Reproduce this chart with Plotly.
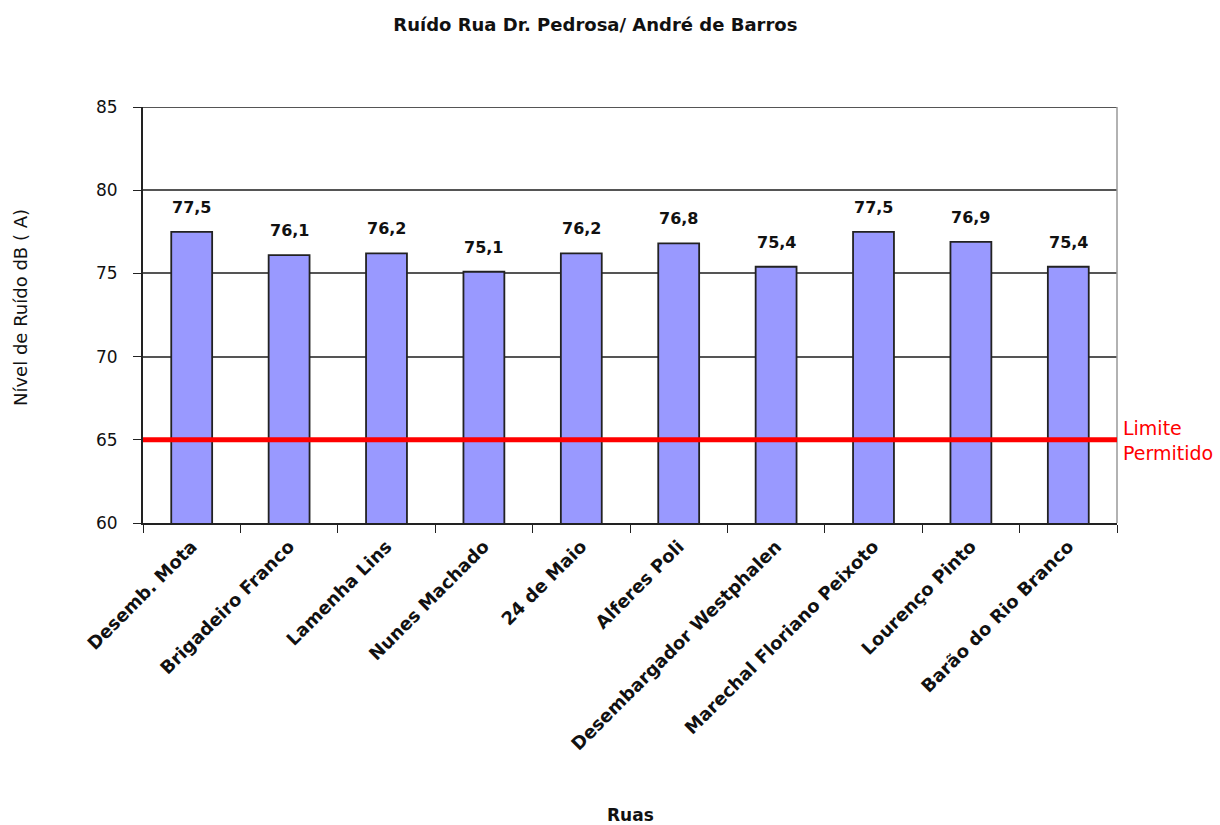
import plotly.graph_objects as go

ruas = ["Desemb. Mota", "Brigadeiro Franco", "Lamenha Lins", "Nunes Machado",
        "24 de Maio", "Alferes Poli", "Desembargador Westphalen",
        "Marechal Floriano Peixoto", "Lourenço Pinto", "Barão do Rio Branco"]
ruido = [77.5, 76.1, 76.2, 75.1, 76.2, 76.8, 75.4, 77.5, 76.9, 75.4]
limite = 65

fig = go.Figure()
fig.add_trace(go.Bar(
    x=ruas, y=ruido,
    marker=dict(color="#9999FF", line=dict(color="#222222", width=1.8)),
))

for r, v in zip(ruas, ruido):
    fig.add_annotation(x=r, y=v, text=f"<b>{v:.1f}</b>".replace(".", ","),
                       showarrow=False, yanchor="bottom", yshift=13,
                       font=dict(family="DejaVu Sans", size=16, color="#111111"))

fig.add_shape(type="line", xref="paper", yref="y", x0=0, x1=1, y0=85, y1=85,
              line=dict(color="#555555", width=2))
fig.add_shape(type="line", xref="paper", yref="paper", x0=1, x1=1, y0=0, y1=1,
              line=dict(color="#999999", width=1.5))
fig.add_shape(type="line", xref="paper", yref="y", x0=0, x1=1, y0=limite, y1=limite,
              line=dict(color="#FF0000", width=5))
fig.add_annotation(xref="paper", yref="y", x=1, xshift=4, y=limite, yshift=-1,
                   text="Limite<br>Permitido",
                   showarrow=False, xanchor="left", yanchor="middle", align="left",
                   font=dict(family="DejaVu Sans", size=19, color="#FF0000"))

fig.add_annotation(xref="paper", yref="paper", x=0.5, y=0, yshift=-292, text="<b>Ruas</b>",
                   showarrow=False, xanchor="center", yanchor="middle",
                   font=dict(family="DejaVu Sans", size=17, color="#111111"))
fig.add_annotation(xref="paper", yref="paper", x=0, xshift=-123, y=0.5, yshift=7,
                   text="Nível de Ruído dB ( A)", textangle=-90,
                   showarrow=False, xanchor="center", yanchor="middle",
                   font=dict(family="DejaVu Sans", size=18, color="#111111"))

fig.update_layout(
    width=1220, height=825,
    margin=dict(l=143, r=103, t=107, b=302),
    paper_bgcolor="white", plot_bgcolor="white",
    showlegend=False,
    bargap=0.58,
    title=dict(text="<b>Ruído Rua Dr. Pedrosa/ André de Barros</b>", x=0.488, xanchor="center",
               y=0.97, yanchor="middle",
               font=dict(family="DejaVu Sans", size=18, color="#111111")),
    font=dict(family="DejaVu Sans", color="#111111"),
)
fig.update_xaxes(
    showline=True, linecolor="#222222", linewidth=1.8,
    ticks="outside", tickson="boundaries", ticklen=8, tickcolor="#222222",
    tickangle=-45, tickfont=dict(family="DejaVu Sans", size=18, color="#111111"),
    tickprefix="<b>", ticksuffix="</b>",
    ticklabelstandoff=4,
)
fig.update_yaxes(
    range=[60, 85], dtick=5, showline=True, linecolor="#222222", linewidth=1.8,
    ticks="outside", ticklen=8, tickcolor="#222222",
    showgrid=True, gridcolor="#555555", gridwidth=2,
    tickfont=dict(family="DejaVu Sans", size=17, color="#111111"),
    ticklabelstandoff=12,
)

fig.write_html("out.html")
